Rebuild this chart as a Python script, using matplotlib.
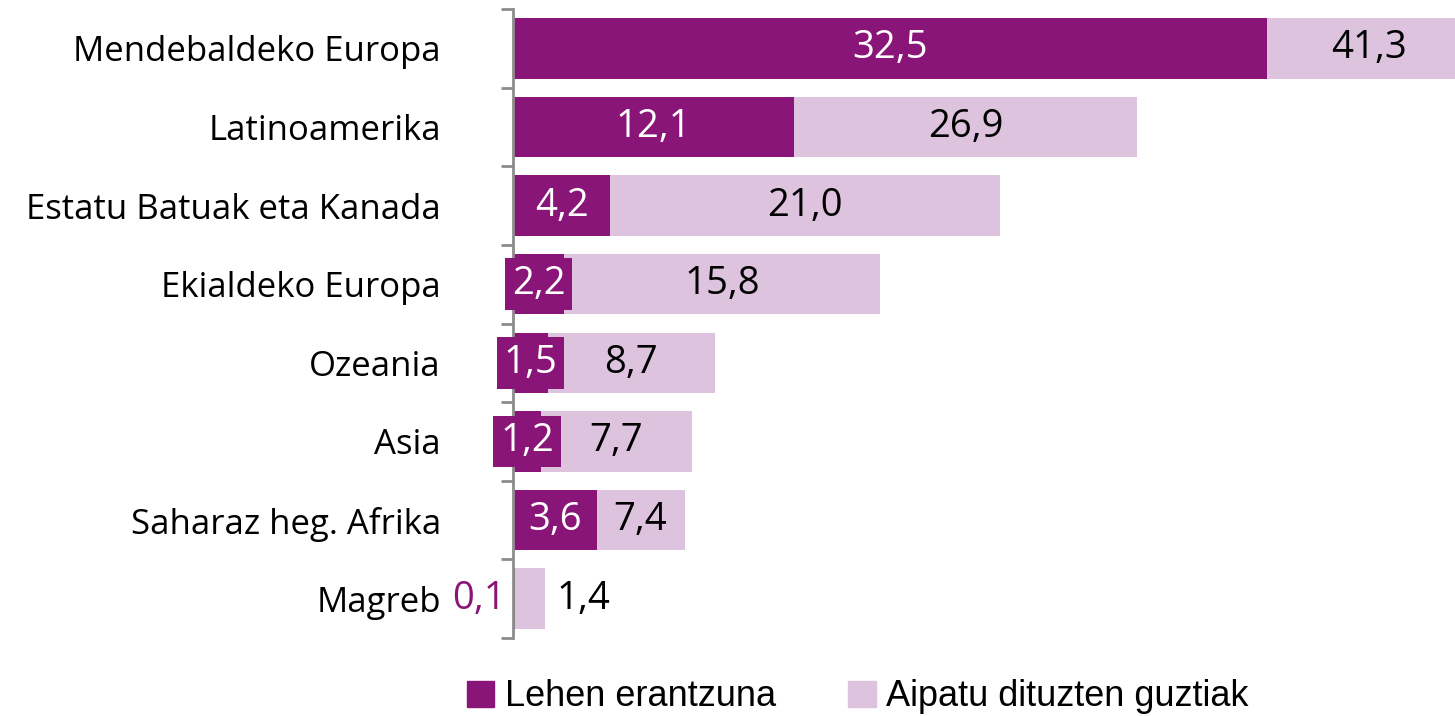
import numpy as np
import matplotlib.pyplot as plt
from matplotlib.patches import Patch

regions = ['Mendebaldeko Europa', 'Latinoamerika', 'Estatu Batuak eta Kanada',
           'Ekialdeko Europa', 'Ozeania', 'Asia', 'Saharaz heg. Afrika', 'Magreb']
first_answer = [32.5, 12.1, 4.2, 2.2, 1.5, 1.2, 3.6, 0.1]
all_mentions = [41.3, 26.9, 21.0, 15.8, 8.7, 7.7, 7.4, 1.4]
legend_labels = ['Lehen erantzuna', 'Aipatu dituzten guztiak']

purple = '#8a1578'
light = '#dec3df'

plt.rcParams['font.family'] = ['Open Sans', 'DejaVu Sans']

fig = plt.figure(figsize=(14.55, 7.16), dpi=100)
ax = fig.add_axes([513 / 1455, 78 / 716, 942 / 1455, 629 / 716])

y = np.arange(len(regions))
h = 0.77
ax.barh(y, all_mentions, height=h, color=light, zorder=1)
ax.barh(y, first_answer, height=h, color=purple, zorder=2)

ax.set_xlim(0, 40.6)
ax.set_ylim(len(regions) - 0.5, -0.5)

def fmt(v):
    return f'{v:.1f}'.replace('.', ',')

for i, (a, t) in enumerate(zip(first_answer, all_mentions)):
    if a >= 1:
        ax.text(a / 2, i, fmt(a), ha='center', va='center', color='white',
                fontsize=27.5, zorder=4,
                bbox=dict(boxstyle='square,pad=0.18', fc=purple, ec='none'))
    else:
        ax.annotate(fmt(a), (0, i), xytext=(-5, 0), textcoords='offset points',
                    ha='right', va='center', color=purple, fontsize=27.5,
                    annotation_clip=False)
    if t - a > 3:
        ax.text((a + t) / 2, i, fmt(t), ha='center', va='center', color='black',
                fontsize=27.5, zorder=3)
    else:
        ax.annotate(fmt(t), (t, i), xytext=(8, 0), textcoords='offset points',
                    ha='left', va='center', color='black', fontsize=27.5)

for s in ['top', 'right', 'bottom']:
    ax.spines[s].set_visible(False)
ax.spines['left'].set_color('#8c8c8c')
ax.spines['left'].set_linewidth(2)
ax.set_xticks([])
ax.set_yticks(np.arange(len(regions) + 1) - 0.5)
ax.set_yticklabels([])
ax.tick_params(axis='y', which='major', length=9, width=2, color='#8c8c8c')
ax.set_yticks(y, minor=True)
ax.set_yticklabels(regions, minor=True, fontsize=25)
ax.tick_params(axis='y', which='minor', length=0, pad=52)

handles = [Patch(color=purple), Patch(color=light)]
fig.legend(handles, legend_labels, loc='center', bbox_to_anchor=(858 / 1455, 1 - 697 / 716),
           ncol=2, frameon=False, handlelength=0.75, handleheight=0.75,
           handletextpad=0.3, columnspacing=2.0,
           prop={'family': ['Liberation Sans', 'DejaVu Sans'], 'size': 26})

fig.savefig('out.png', dpi=100)
